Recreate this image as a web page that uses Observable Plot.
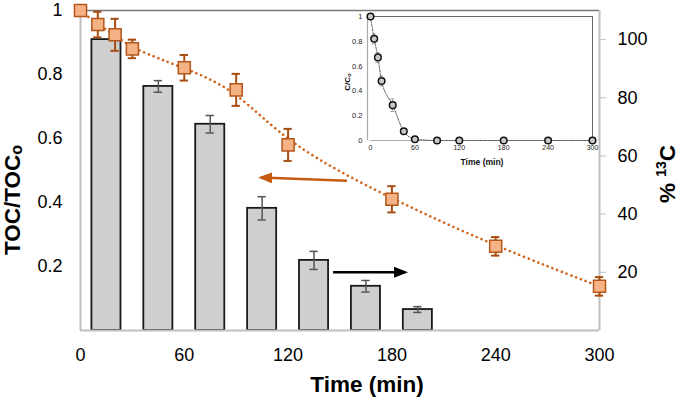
<!DOCTYPE html>
<html><head><meta charset="utf-8">
<script src="https://cdn.jsdelivr.net/npm/d3@7"></script>
<script src="https://cdn.jsdelivr.net/npm/@observablehq/plot@0.6"></script>
<style>
body{margin:0;background:#fff;font-family:"Liberation Sans",Arial,sans-serif;}
#wrap{position:relative;width:685px;height:400px;}
#wrap svg.inset{position:absolute;left:330px;top:0;}
</style></head><body><div id="wrap"></div>
<script>
// ---- data ----
const tocTime  = [0, 10, 20, 30, 60, 90, 120, 180, 240, 300];
const tocValue = [1.0, 0.956, 0.924, 0.880, 0.821, 0.752, 0.580, 0.410, 0.263, 0.138];
const tocErr   = [0, 0.04, 0.05, 0.029, 0.04, 0.05, 0.05, 0.041, 0.029, 0.029];

const barTime  = [15, 45, 75, 105, 135, 165, 195];
const c13Value = [100, 83.9, 70.9, 42.0, 24.1, 15.2, 7.2];
const c13Err   = [0, 2.0, 3.0, 4.0, 3.1, 2.0, 1.0];

const insetTime  = [0, 5, 10, 15, 30, 45, 60, 90, 120, 180, 240, 300];
const insetValue = [1, 0.82, 0.67, 0.48, 0.285, 0.075, 0.01, 0, 0, 0, 0, 0];
const insetErr   = [0, 0.04, 0.04, 0.04, 0.05, 0.02, 0, 0, 0, 0, 0, 0];

const xTicks = [0, 60, 120, 180, 240, 300];
const leftTicks = [0.2, 0.4, 0.6, 0.8, 1];
const rightTicks = [20, 40, 60, 80, 100];
const insetYTicks = [0, 0.2, 0.4, 0.6, 0.8, 1];
const rightMax = 110;

// annotation arrows (data units: time, TOC/TOCo)
const orangeArrow = [{x1: 154, y1: 0.468, x2: 104.4, y2: 0.478}];
const blackArrow  = [{x1: 146, y1: 0.182, x2: 187.6, y2: 0.182}];

// ---- tables ----
const toc = tocTime.map((t, i) => ({t, v: tocValue[i], e: tocErr[i]}));
const bars = barTime.map((t, i) => ({t, v: c13Value[i] / rightMax, e: c13Err[i] / rightMax}));
const barsErr = bars.filter(d => d.e > 0);
const tocErrD = toc.filter(d => d.e > 0);
const ins = insetTime.map((t, i) => ({t, v: insetValue[i], e: insetErr[i]}));
const insErr = ins.filter(d => d.e > 0);

const barHalf = 8.4, capHalf = 2.4;
const fmt = d => d === 1 ? "1" : d === 0 ? "0" : d.toFixed(1);
const FONT = "Liberation Sans, Arial, sans-serif";

const main = Plot.plot({
  width: 685, height: 400,
  marginLeft: 80, marginRight: 86, marginTop: 10, marginBottom: 70,
  style: {fontFamily: FONT, color: "#000", background: "#fff"},
  x: {domain: [0, 300]},
  y: {domain: [0, 1]},
  marks: [
    // frame
    Plot.ruleY([1], {stroke: "#777", strokeWidth: 1.3}),
    Plot.ruleX([0], {stroke: "#c0c0c0", strokeWidth: 2}),
    Plot.ruleX([300], {stroke: "#c0c0c0", strokeWidth: 2}),
    // bars (% 13C, right axis)
    Plot.rectY(bars, {x1: d => d.t - barHalf, x2: d => d.t + barHalf, y1: 0, y2: "v",
      fill: "#d0cfcf", stroke: "#1a1a1a", strokeWidth: 1.8}),
    Plot.ruleX(barsErr, {x: "t", y1: d => d.v - d.e, y2: d => d.v + d.e, stroke: "#555", strokeWidth: 1.5}),
    Plot.ruleY(barsErr, {y: d => d.v - d.e, x1: d => d.t - capHalf, x2: d => d.t + capHalf, stroke: "#555", strokeWidth: 1.5}),
    Plot.ruleY(barsErr, {y: d => d.v + d.e, x1: d => d.t - capHalf, x2: d => d.t + capHalf, stroke: "#555", strokeWidth: 1.5}),
    Plot.ruleY([0], {stroke: "#c0c0c0", strokeWidth: 2}),
    // TOC trend (dotted)
    Plot.line(toc, {x: "t", y: "v", curve: "basis", stroke: "#d2651d", strokeWidth: 2.6,
      strokeDasharray: "0.1 5", strokeLinecap: "round"}),
    // TOC error bars
    Plot.ruleX(tocErrD, {x: "t", y1: d => d.v - d.e, y2: d => d.v + d.e, stroke: "#a84d12", strokeWidth: 2}),
    Plot.ruleY(tocErrD, {y: d => d.v - d.e, x1: d => d.t - capHalf, x2: d => d.t + capHalf, stroke: "#a84d12", strokeWidth: 2}),
    Plot.ruleY(tocErrD, {y: d => d.v + d.e, x1: d => d.t - capHalf, x2: d => d.t + capHalf, stroke: "#a84d12", strokeWidth: 2}),
    // TOC squares
    Plot.dot(toc, {x: "t", y: "v", symbol: "square", r: 6.8, fill: "#f5b284", stroke: "#b4561a", strokeWidth: 1.5}),
    // arrows
    Plot.link(orangeArrow, {x1: "x1", y1: "y1", x2: "x2", y2: "y2", stroke: "#c55a11", strokeWidth: 2.6}),
    Plot.link(blackArrow, {x1: "x1", y1: "y1", x2: "x2", y2: "y2", stroke: "#000", strokeWidth: 2.6}),
    // axes
    Plot.axisX({ticks: xTicks, tickSize: 0, tickPadding: 18, fontSize: 18, label: null, tickFormat: d => String(d)}),
    Plot.axisY({anchor: "left", ticks: leftTicks, tickSize: 0, tickPadding: 18, fontSize: 18, label: null, tickFormat: fmt}),
    Plot.axisY({anchor: "right", ticks: rightTicks.map(v => v / rightMax), tickSize: 6, tickPadding: 12,
      fontSize: 18, label: null, stroke: "#c0c0c0", fill: "#000", tickFormat: d => String(Math.round(d * rightMax))})
  ]
});

// filled arrow heads via SVG markers
const ms = d3.select(main);
const defs = ms.append("defs");
function addMarker(id, color) {
  defs.append("marker").attr("id", id).attr("markerUnits", "userSpaceOnUse")
    .attr("viewBox", "0 0 14 11").attr("markerWidth", 14).attr("markerHeight", 11)
    .attr("refX", 11).attr("refY", 5.5).attr("orient", "auto")
    .append("path").attr("d", "M0,0L14,5.5L0,11Z").attr("fill", color);
}
addMarker("headOrange", "#c55a11");
addMarker("headBlack", "#000");
const links = ms.selectAll('g[aria-label="link"]').nodes();
if (links[0]) d3.select(links[0]).selectAll("path").attr("marker-end", "url(#headOrange)");
if (links[1]) d3.select(links[1]).selectAll("path").attr("marker-end", "url(#headBlack)");

// axis titles
ms.append("text").attr("x", 367).attr("y", 392).attr("text-anchor", "middle")
  .attr("font-family", FONT).attr("font-size", 22.5).attr("font-weight", "bold").attr("fill", "#000")
  .text("Time (min)");
const lt = ms.append("text").attr("transform", "translate(20,200) rotate(-90)").attr("text-anchor", "middle")
  .attr("font-family", FONT).attr("font-size", 22.5).attr("font-weight", "bold").attr("fill", "#000");
lt.append("tspan").text("TOC/TOC");
lt.append("tspan").attr("font-size", 16).attr("dy", 2).text("o");
const rt = ms.append("text").attr("transform", "translate(675,174) rotate(-90)").attr("text-anchor", "middle")
  .attr("font-family", FONT).attr("font-size", 22.5).attr("font-weight", "bold").attr("fill", "#000");
rt.append("tspan").text("% ");
rt.append("tspan").attr("font-size", 14).attr("dy", -9).text("13");
rt.append("tspan").attr("dy", 9).text("C");

// ---- inset ----
const inset = Plot.plot({
  width: 270, height: 175,
  marginLeft: 40, marginRight: 8, marginTop: 16, marginBottom: 35,
  style: {fontFamily: FONT, color: "#222", background: "transparent"},
  x: {domain: [0, 300]},
  y: {domain: [0, 1]},
  marks: [
    Plot.ruleY([1], {stroke: "#666", strokeWidth: 1}),
    Plot.ruleX([300], {stroke: "#666", strokeWidth: 1}),
    Plot.ruleX([0], {stroke: "#aaa", strokeWidth: 1.2, dx: -3}),
    Plot.ruleY([0], {stroke: "#aaa", strokeWidth: 1.2}),
    Plot.line(ins, {x: "t", y: "v", curve: "monotone-x", stroke: "#555", strokeWidth: 1, strokeDasharray: "1.3 1.3"}),
    Plot.ruleX(insErr, {x: "t", y1: d => d.v - d.e, y2: d => d.v + d.e, stroke: "#888", strokeWidth: 0.8}),
    Plot.ruleY(insErr, {y: d => d.v + d.e, x1: d => d.t - 2.7, x2: d => d.t + 2.7, stroke: "#888", strokeWidth: 0.8}),
    Plot.ruleY(insErr, {y: d => d.v - d.e, x1: d => d.t - 2.7, x2: d => d.t + 2.7, stroke: "#888", strokeWidth: 0.8}),
    Plot.dot(ins, {x: "t", y: "v", r: 3.3, fill: "#c8c8c8", stroke: "#111", strokeWidth: 1.5}),
    Plot.axisX({ticks: xTicks, tickSize: 0, tickPadding: 5, fontSize: 7, label: null, tickFormat: d => String(d)}),
    Plot.axisY({ticks: insetYTicks, tickSize: 0, tickPadding: 8, fontSize: 7.5, label: null, tickFormat: fmt})
  ]
});
inset.classList.add("inset");
const is = d3.select(inset);
is.append("text").attr("x", 152).attr("y", 165).attr("text-anchor", "middle")
  .attr("font-family", FONT).attr("font-size", 8.5).attr("font-weight", "bold").attr("fill", "#111")
  .text("Time (min)");
const it = is.append("text").attr("transform", "translate(19.5,82) rotate(-90)").attr("text-anchor", "middle")
  .attr("font-family", FONT).attr("font-size", 8).attr("font-weight", "bold").attr("fill", "#111");
it.append("tspan").text("C/C");
it.append("tspan").attr("font-size", 6).attr("dy", 1).text("o");

const wrap = document.getElementById("wrap");
wrap.appendChild(main);
wrap.appendChild(inset);
</script>
</body></html>
